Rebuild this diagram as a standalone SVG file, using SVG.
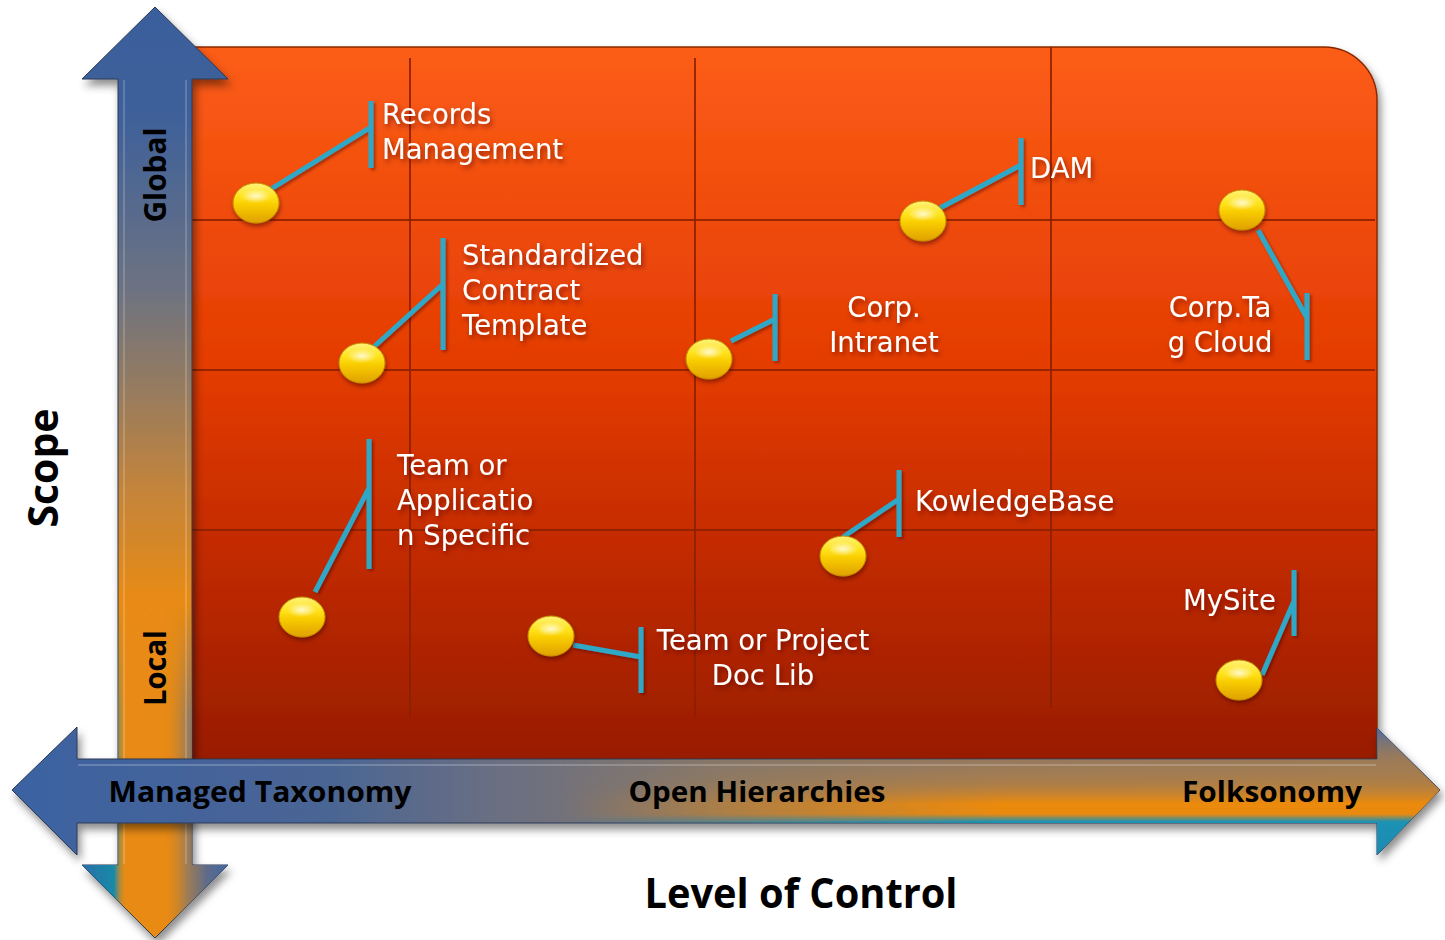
<svg xmlns="http://www.w3.org/2000/svg" width="1445" height="940" viewBox="0 0 1445 940">
<defs>
<linearGradient id="bg" x1="0" y1="47" x2="0" y2="760" gradientUnits="userSpaceOnUse">
<stop offset="0" stop-color="#fc5d17"/>
<stop offset="0.45" stop-color="#e43c02"/>
<stop offset="0.7" stop-color="#c32b00"/>
<stop offset="1" stop-color="#981c00"/>
</linearGradient>
<linearGradient id="vgrad" x1="0" y1="7" x2="0" y2="938" gradientUnits="userSpaceOnUse">
<stop offset="0" stop-color="#3a5e9c"/>
<stop offset="0.12" stop-color="#3f619a"/>
<stop offset="0.3" stop-color="#6c7282"/>
<stop offset="0.42" stop-color="#9a7c5c"/>
<stop offset="0.52" stop-color="#c4843a"/>
<stop offset="0.64" stop-color="#e98b14"/>
<stop offset="1" stop-color="#e98b12"/>
</linearGradient>
<linearGradient id="vover" x1="82" y1="0" x2="228" y2="0" gradientUnits="userSpaceOnUse">
<stop offset="0" stop-color="#2a70a8"/>
<stop offset="0.22" stop-color="#1889a8"/>
<stop offset="0.3" stop-color="#e98b14" stop-opacity="0.2"/>
<stop offset="0.55" stop-color="#e98b14" stop-opacity="0"/>
<stop offset="0.72" stop-color="#8c7866" stop-opacity="0.8"/>
<stop offset="0.85" stop-color="#5f6c88"/>
<stop offset="1" stop-color="#4267a2"/>
</linearGradient>
<linearGradient id="vfade" x1="0" y1="600" x2="0" y2="720" gradientUnits="userSpaceOnUse">
<stop offset="0" stop-color="#fff" stop-opacity="0"/>
<stop offset="1" stop-color="#fff" stop-opacity="1"/>
</linearGradient>
<mask id="vmask" maskUnits="userSpaceOnUse" x="0" y="0" width="1445" height="940">
<rect x="0" y="600" width="400" height="340" fill="url(#vfade)"/>
</mask>
<linearGradient id="hgrad" x1="12" y1="0" x2="1440" y2="0" gradientUnits="userSpaceOnUse">
<stop offset="0" stop-color="#3c62a2"/>
<stop offset="0.22" stop-color="#4a6594"/>
<stop offset="0.34" stop-color="#6a6f82"/>
<stop offset="0.5" stop-color="#887868"/>
<stop offset="0.7" stop-color="#a07a55"/>
<stop offset="1" stop-color="#a87c4c"/>
</linearGradient>
<linearGradient id="hover" x1="0" y1="727" x2="0" y2="855" gradientUnits="userSpaceOnUse">
<stop offset="0" stop-color="#4a6aa2"/>
<stop offset="0.28" stop-color="#8c7a6a" stop-opacity="0.3"/>
<stop offset="0.45" stop-color="#b8823e" stop-opacity="0.6"/>
<stop offset="0.6" stop-color="#ec8a0c"/>
<stop offset="0.68" stop-color="#e88a10"/>
<stop offset="0.74" stop-color="#1a92b4"/>
<stop offset="1" stop-color="#1c8ab2"/>
</linearGradient>
<linearGradient id="hfade" x1="560" y1="0" x2="1000" y2="0" gradientUnits="userSpaceOnUse">
<stop offset="0" stop-color="#fff" stop-opacity="0"/>
<stop offset="1" stop-color="#fff" stop-opacity="1"/>
</linearGradient>
<mask id="hmask" maskUnits="userSpaceOnUse" x="0" y="0" width="1445" height="940">
<rect x="0" y="700" width="1445" height="200" fill="url(#hfade)"/>
</mask>
<linearGradient id="ball" x1="0" y1="0" x2="0" y2="1">
<stop offset="0" stop-color="#fff27a"/>
<stop offset="0.35" stop-color="#ffe21a"/>
<stop offset="0.55" stop-color="#f8cc00"/>
<stop offset="1" stop-color="#e0a000"/>
</linearGradient>
<radialGradient id="shine" cx="0.5" cy="0.5" r="0.5">
<stop offset="0" stop-color="#fffbe0" stop-opacity="0.9"/>
<stop offset="1" stop-color="#fffbe0" stop-opacity="0"/>
</radialGradient>
<filter id="sh" x="-10%" y="-10%" width="130%" height="130%">
<feDropShadow dx="3" dy="6" stdDeviation="4" flood-color="#000" flood-opacity="0.45"/>
</filter>
<filter id="tsh" x="-10%" y="-20%" width="130%" height="160%">
<feDropShadow dx="2" dy="3" stdDeviation="2.5" flood-color="#500" flood-opacity="0.6"/>
</filter>
<filter id="bsh" x="-30%" y="-30%" width="170%" height="170%">
<feDropShadow dx="1" dy="3" stdDeviation="2" flood-color="#400" flood-opacity="0.5"/>
</filter>
<filter id="lsh" x="-10%" y="-10%" width="130%" height="130%">
<feDropShadow dx="2" dy="2" stdDeviation="1.5" flood-color="#400" flood-opacity="0.45"/>
</filter>
</defs>
<style>
.grid{stroke:#8a2000;stroke-opacity:0.85;stroke-width:2;fill:none}
.lead{stroke:#2ea8c6;stroke-width:5;fill:none;stroke-linecap:butt}
.lbl{font-family:"DejaVu Sans",Verdana,sans-serif;font-size:27.5px;fill:#fff}
.ax{font-family:"Open Sans","Liberation Sans",sans-serif;font-weight:700;fill:#000}
.ball{fill:url(#ball);stroke:#c88e00;stroke-width:1}
</style>

<g id="matrix">
<path d="M190,47 H1324 A53,53 0 0 1 1377,100 V762 H190 Z" fill="url(#bg)" stroke="#8a2800" stroke-width="1.5" filter="url(#sh)"/>
<g id="grid">
<line class="grid" x1="410" y1="58" x2="410" y2="718"/>
<line class="grid" x1="695" y1="58" x2="695" y2="718"/>
<line class="grid" x1="1051" y1="47" x2="1051" y2="708"/>
<line class="grid" x1="188" y1="220" x2="1375" y2="220"/>
<line class="grid" x1="188" y1="370" x2="1375" y2="370"/>
<line class="grid" x1="188" y1="530" x2="1375" y2="530"/>
</g>
</g>

<g id="scope-axis" filter="url(#sh)">
<path d="M155,7 L228,79 H192 V865 H228 L155,938 L82,865 H118 V79 H82 Z" fill="url(#vgrad)" stroke="#2a3a55" stroke-width="1"/>
<path d="M155,7 L228,79 H192 V865 H228 L155,938 L82,865 H118 V79 H82 Z" fill="url(#vover)" mask="url(#vmask)"/>
<line x1="124" y1="80" x2="124" y2="864" stroke="#fff" stroke-opacity="0.18" stroke-width="2"/>
<line x1="186" y1="80" x2="186" y2="864" stroke="#fff" stroke-opacity="0.18" stroke-width="2"/>
</g>

<g id="control-axis" filter="url(#sh)">
<path d="M12,790 L77,727 V759 H1377 V728 L1440,790 L1377,855 V823 H77 V855 Z" fill="url(#hgrad)" stroke="#2a3a55" stroke-width="1"/>
<path d="M12,790 L77,727 V759 H1377 V728 L1440,790 L1377,855 V823 H77 V855 Z" fill="url(#hover)" mask="url(#hmask)"/>
<line x1="78" y1="765" x2="1376" y2="765" stroke="#fff" stroke-opacity="0.2" stroke-width="2"/>
</g>

<g id="axis-labels">
<text class="ax" x="260" y="802" font-size="28" text-anchor="middle" textLength="303" lengthAdjust="spacingAndGlyphs">Managed Taxonomy</text>
<text class="ax" x="757" y="802" font-size="28" text-anchor="middle" textLength="257" lengthAdjust="spacingAndGlyphs">Open Hierarchies</text>
<text class="ax" x="1272" y="802" font-size="28" text-anchor="middle" textLength="180" lengthAdjust="spacingAndGlyphs">Folksonomy</text>
<text class="ax" x="801" y="908" font-size="42" text-anchor="middle" textLength="313" lengthAdjust="spacingAndGlyphs">Level of Control</text>
<text class="ax" transform="translate(58,468) rotate(-90)" font-size="42" text-anchor="middle" textLength="119" lengthAdjust="spacingAndGlyphs">Scope</text>
<text class="ax" transform="translate(166,175) rotate(-90)" font-size="30" text-anchor="middle" textLength="95" lengthAdjust="spacingAndGlyphs">Global</text>
<text class="ax" transform="translate(166,668) rotate(-90)" font-size="30" text-anchor="middle" textLength="76" lengthAdjust="spacingAndGlyphs">Local</text>
</g>

<g id="connectors" filter="url(#lsh)">
<path class="lead" d="M271,189 L371,127 M371,101 V168"/>
<path class="lead" d="M366,354 L443,284 M443,238 V350"/>
<path class="lead" d="M731,341 L775,319 M775,294 V361"/>
<path class="lead" d="M940,208 L1021,165 M1021,138 V205"/>
<path class="lead" d="M1258,230 L1307,318 M1307,293 V360"/>
<path class="lead" d="M315,592 L369,488 M369,439 V569"/>
<path class="lead" d="M843,537 L899,499 M899,470 V537"/>
<path class="lead" d="M573,645 L641,657 M641,627 V693"/>
<path class="lead" d="M1262,675 L1294,601 M1294,570 V636"/>
</g>

<g id="records-management">
<ellipse class="ball" cx="256" cy="203" rx="23" ry="20" filter="url(#bsh)"/>
<ellipse cx="256" cy="196" rx="15" ry="7" fill="url(#shine)"/>
<text class="lbl" filter="url(#tsh)"><tspan x="382" y="124">Records</tspan><tspan x="382" y="159">Management</tspan></text>
</g>
<g id="standardized-contract-template">
<ellipse class="ball" cx="362" cy="363" rx="23" ry="20" filter="url(#bsh)"/>
<ellipse cx="362" cy="356" rx="15" ry="7" fill="url(#shine)"/>
<text class="lbl" filter="url(#tsh)"><tspan x="462" y="265">Standardized</tspan><tspan x="462" y="300">Contract</tspan><tspan x="462" y="335">Template</tspan></text>
</g>
<g id="corp-intranet">
<ellipse class="ball" cx="709" cy="359" rx="23" ry="20" filter="url(#bsh)"/>
<ellipse cx="709" cy="352" rx="15" ry="7" fill="url(#shine)"/>
<text class="lbl" text-anchor="middle" filter="url(#tsh)"><tspan x="884" y="317">Corp.</tspan><tspan x="884" y="352">Intranet</tspan></text>
</g>
<g id="dam">
<ellipse class="ball" cx="923" cy="221" rx="23" ry="20" filter="url(#bsh)"/>
<ellipse cx="923" cy="214" rx="15" ry="7" fill="url(#shine)"/>
<text class="lbl" x="1030" y="178" filter="url(#tsh)">DAM</text>
</g>
<g id="corp-tag-cloud">
<ellipse class="ball" cx="1242" cy="210" rx="23" ry="20" filter="url(#bsh)"/>
<ellipse cx="1242" cy="203" rx="15" ry="7" fill="url(#shine)"/>
<text class="lbl" text-anchor="middle" filter="url(#tsh)"><tspan x="1220" y="317">Corp.Ta</tspan><tspan x="1220" y="352">g Cloud</tspan></text>
</g>
<g id="team-or-application-specific">
<ellipse class="ball" cx="302" cy="617" rx="23" ry="20" filter="url(#bsh)"/>
<ellipse cx="302" cy="610" rx="15" ry="7" fill="url(#shine)"/>
<text class="lbl" filter="url(#tsh)"><tspan x="397" y="475">Team or</tspan><tspan x="397" y="510">Applicatio</tspan><tspan x="397" y="545">n Specific</tspan></text>
</g>
<g id="kowledgebase">
<ellipse class="ball" cx="843" cy="556" rx="23" ry="20" filter="url(#bsh)"/>
<ellipse cx="843" cy="549" rx="15" ry="7" fill="url(#shine)"/>
<text class="lbl" x="915" y="511" filter="url(#tsh)">KowledgeBase</text>
</g>
<g id="team-or-project-doc-lib">
<ellipse class="ball" cx="551" cy="636" rx="23" ry="20" filter="url(#bsh)"/>
<ellipse cx="551" cy="629" rx="15" ry="7" fill="url(#shine)"/>
<text class="lbl" text-anchor="middle" filter="url(#tsh)"><tspan x="763" y="650">Team or Project</tspan><tspan x="763" y="685">Doc Lib</tspan></text>
</g>
<g id="mysite">
<ellipse class="ball" cx="1239" cy="680" rx="23" ry="20" filter="url(#bsh)"/>
<ellipse cx="1239" cy="673" rx="15" ry="7" fill="url(#shine)"/>
<text class="lbl" x="1183" y="610" filter="url(#tsh)">MySite</text>
</g>
</svg>
